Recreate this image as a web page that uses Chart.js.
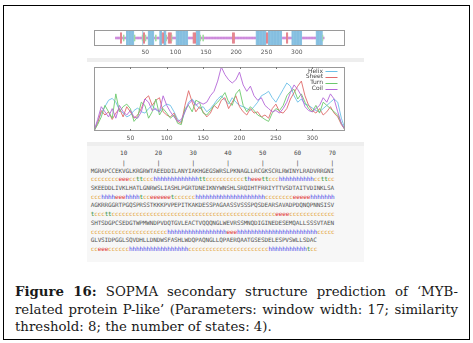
<!DOCTYPE html>
<html>
<head>
<meta charset="utf-8">
<script src="https://cdn.jsdelivr.net/npm/chart.js@4.4.0/dist/chart.umd.min.js"></script>
<style>
body { margin: 0; width: 473px; height: 343px; background: #fff; position: relative; overflow: hidden; }
#frame { position: absolute; left: 3px; top: 5px; width: 467px; height: 335px; border: 1.5px solid #000; box-sizing: border-box; }
.band { position: absolute; left: 87px; width: 277px; background: #eeeeee; }
#panel { position: absolute; left: 87px; top: 143px; width: 277px; height: 119px; background: #f7f7f7; }
#trackWrap { position: absolute; left: 87px; top: 24px; width: 277px; height: 36px; }
#plotWrap { position: absolute; left: 87px; top: 62px; width: 277px; height: 82px; }
.mono { font-family: "DejaVu Sans Mono", monospace; font-size: 6px; letter-spacing: -0.136px; white-space: pre; }
#ruler, #rulerTicks { position: absolute; left: 90.7px; width: 250px; height: 8px; color: #444; }
#ruler span, #rulerTicks span { position: absolute; top: 0; transform: translateX(-50%); letter-spacing: 0; }
#ruler { top: 149px; }
#rulerTicks { top: 158.5px; }
#seq { position: absolute; left: 90.7px; top: 166.6px; line-height: 8.7px; color: #555; }
.c { color: #e3a232; } .h { color: #3b3be6; } .e { color: #df2c2c; } .t { color: #2b8c2b; }
#caption { position: absolute; left: 15px; top: 283px; width: 443px; font-family: "DejaVu Serif", serif; font-size: 13.3px; line-height: 17.5px; color: #1a1a1a; }
.j { text-align: justify; text-align-last: justify; }
</style>
</head>
<body>
<div id="frame"></div>
<div class="band" style="top:58px;height:4px"></div>
<div id="panel"></div>
<div class="band" style="top:142px;height:4px"></div>
<div id="trackWrap"><canvas id="track"></canvas></div>
<div id="plotWrap"><canvas id="plot"></canvas></div>
<div id="ruler" class="mono"></div>
<div id="rulerTicks" class="mono"></div>
<div id="seq" class="mono"></div>
<div id="caption">
  <div class="j"><b>Figure 16:</b> SOPMA secondary structure prediction of ‘MYB-</div>
  <div class="j">related protein P-like’ (Parameters: window width: 17; similarity</div>
  <div>threshold: 8; the number of states: 4).</div>
</div>
<script>
// sequence, 70 residues per line
const seqLines = [
  'MGRAPCCEKVGLKRGRWTAEEDDILANYIAKHGEGSWRSLPKNAGLLRCGKSCRLRWINYLRADVRRGNI',
  'SKEEDDLIVKLHATLGNRWSLIASHLPGRTDNEIKNYWNSHLSRQIHTFRRIYTTVSDTAITVDINKLSA',
  'AGKRRGGRTPGQSPRSSTKKKPVPEPITKAKDESSPAGAASSVSSSPQSDEARSAVADPDQNQPNNSISV',
  'SHTSDGPCSEDGTWPMWNDPVDQTGVLEACTVQQQNGLWEVRSSMNQDIGINEDESEMQALLSSSVTAEN',
  'GLVSIDPGGLSQVDHLLDNDWSFASHLWDQPAQNGLLQPAERQAATGSESDELESPVSWLLSDAC'
];
// predicted states (h helix, e sheet, t turn, c coil), grouped by 10
const ssLines = [
  'ccccccccee eccttccchh hhhhhhhhhh httccccccc cccctheeet tccchhhhhh hhhhccttcc',
  'ccchhhheee hhhhtcceee eeetcccccc hhhhhhhhhh hhhhhhhhhh ccccccccee eeehhhhhhh',
  'tcccttcccc cccccccccc cccccccccc cccccccccc cccccccccc ccceeeeccc cccccccccc',
  'cccccccccc cccccccccc cchhhhhhhh hhhhhhhhhe eehhhhhhhh hhhhhhhhhh hhhhhccccc',
  'cceeeccccc chhhhhhhhh hhhhhhhhcc cccccccccc cccccccccc chhhhhhhhh hhtcc'
].map(s => s.replace(/ /g, ''));
const rulerMarks = [10, 20, 30, 40, 50, 60, 70];
const xTicks = [50, 100, 150, 200, 250, 300];
const xMax = 345;

// score curves, sampled every 5 residues
const residues = [0, 5, 10, 15, 20, 25, 30, 35, 40, 45, 50, 55, 60, 65, 70, 75, 80, 85, 90, 95,
  100, 105, 110, 115, 120, 125, 130, 135, 140, 145, 150, 155, 160, 165, 170, 175, 180, 185, 190, 195,
  200, 205, 210, 215, 220, 225, 230, 235, 240, 245, 250, 255, 260, 265, 270, 275, 280, 285, 290, 295,
  300, 305, 310, 315, 320, 325, 330, 335, 340, 345];
const helix = [0.0, 0.15, 0.28, 0.38, 0.48, 0.51, 0.45, 0.33, 0.28, 0.22, 0.25, 0.32, 0.36, 0.30, 0.28, 0.35, 0.40, 0.33, 0.30, 0.38,
  0.42, 0.40, 0.30, 0.18, 0.14, 0.30, 0.45, 0.50, 0.42, 0.35, 0.38, 0.30, 0.35, 0.42, 0.50, 0.55, 0.48, 0.42, 0.52, 0.45,
  0.40, 0.38, 0.35, 0.32, 0.38, 0.45, 0.55, 0.58, 0.62, 0.52, 0.45, 0.55, 0.65, 0.75, 0.70, 0.55, 0.45, 0.50, 0.42, 0.40,
  0.36, 0.32, 0.30, 0.35, 0.40, 0.45, 0.50, 0.45, 0.20, 0.03];
const sheet = [0.0, 0.12, 0.32, 0.25, 0.30, 0.18, 0.28, 0.35, 0.22, 0.38, 0.30, 0.20, 0.25, 0.35, 0.50, 0.55, 0.40, 0.48, 0.52, 0.30,
  0.25, 0.22, 0.28, 0.15, 0.12, 0.40, 0.63, 0.45, 0.30, 0.38, 0.30, 0.22, 0.28, 0.40, 0.35, 0.48, 0.52, 0.35, 0.45, 0.55,
  0.38, 0.30, 0.25, 0.35, 0.28, 0.30, 0.22, 0.25, 0.20, 0.35, 0.42, 0.30, 0.28, 0.35, 0.50, 0.60, 0.70, 0.78, 0.55, 0.40,
  0.32, 0.28, 0.35, 0.25, 0.30, 0.38, 0.28, 0.22, 0.10, 0.02];
const turn = [0.0, 0.10, 0.22, 0.40, 0.30, 0.20, 0.58, 0.30, 0.38, 0.42, 0.35, 0.15, 0.22, 0.45, 0.40, 0.20, 0.30, 0.50, 0.25, 0.35,
  0.28, 0.20, 0.25, 0.12, 0.10, 0.35, 0.40, 0.30, 0.48, 0.45, 0.28, 0.25, 0.32, 0.40, 0.45, 0.52, 0.60, 0.45, 0.40, 0.58,
  0.65, 0.40, 0.30, 0.38, 0.32, 0.25, 0.22, 0.18, 0.15, 0.28, 0.35, 0.32, 0.40, 0.55, 0.62, 0.65, 0.50, 0.58, 0.45, 0.35,
  0.30, 0.40, 0.28, 0.45, 0.40, 0.35, 0.30, 0.25, 0.12, 0.02];
const coil = [0.0, 0.18, 0.38, 0.30, 0.22, 0.35, 0.20, 0.40, 0.30, 0.25, 0.32, 0.22, 0.20, 0.30, 0.50, 0.45, 0.32, 0.35, 0.30, 0.55,
  0.40, 0.30, 0.22, 0.15, 0.18, 0.30, 0.42, 0.48, 0.40, 0.45, 0.42, 0.45, 0.55, 0.62, 0.78, 1.0, 0.88, 0.80, 0.75, 0.80,
  0.92, 0.72, 0.62, 0.70, 0.55, 0.48, 0.52, 0.40, 0.35, 0.30, 0.32, 0.28, 0.35, 0.45, 0.60, 0.72, 0.65, 0.55, 0.38, 0.32,
  0.30, 0.35, 0.40, 0.52, 0.45, 0.58, 0.50, 0.30, 0.12, 0.02];

const stateColors = { h: '#74b6dc', e: '#e0707a', t: '#8ed68e', c: '#c67ad6' };
const stateHalf = { h: 0.95, e: 0.7, t: 0.4, c: 0.17 };

// sequence block
const ruler = document.getElementById('ruler');
const rulerTicks = document.getElementById('rulerTicks');
const charW = 3.476;
rulerMarks.forEach(n => {
  const a = document.createElement('span');
  a.textContent = n;
  a.style.left = ((n - 0.5) * charW) + 'px';
  ruler.appendChild(a);
  const b = document.createElement('span');
  b.textContent = '|';
  b.style.left = ((n - 0.5) * charW) + 'px';
  rulerTicks.appendChild(b);
});
let html = '';
seqLines.forEach((s, i) => {
  html += s + '\n';
  html += ssLines[i].split('').map(ch => '<span class="' + ch + '">' + ch + '</span>').join('') + '\n';
});
document.getElementById('seq').innerHTML = html;

Chart.defaults.font.family = 'DejaVu Sans';
Chart.defaults.font.size = 6;
Chart.defaults.color = '#555';

const boxPlugin = {
  id: 'box',
  afterDraw(chart, args, opts) {
    const { ctx, chartArea: a } = chart;
    ctx.save();
    ctx.strokeStyle = '#9a9a9a';
    ctx.lineWidth = 1;
    ctx.strokeRect(Math.round(a.left) + 0.5, Math.round(a.top) + 0.5, Math.round(a.width) - 1, Math.round(a.height) - 1);
    if (opts.innerTicks) {
      ctx.strokeStyle = '#777';
      xTicks.forEach(v => {
        const x = Math.round(chart.scales.x.getPixelForValue(v)) + 0.5;
        ctx.beginPath();
        ctx.moveTo(x, a.top); ctx.lineTo(x, a.top + 2);
        ctx.moveTo(x, a.bottom); ctx.lineTo(x, a.bottom - 2);
        ctx.stroke();
      });
    }
    ctx.restore();
  }
};

function xAxis(pad, h) {
  return {
    type: 'linear', min: 0, max: xMax,
    grid: { display: false, drawTicks: false },
    border: { display: false },
    ticks: { padding: pad, color: '#555', font: { size: 6 } },
    afterBuildTicks: s => { s.ticks = xTicks.map(v => ({ value: v })); },
    afterFit: s => { s.height = h; }
  };
}

// track of predicted states
const ssAll = ssLines.join('');
const trackSets = ['t', 'e', 'h', 'c'].map(k => {
  const pts = [];
  for (let i = 0; i < ssAll.length; i++) {
    if (ssAll[i] === k) pts.push({ x: i + 1, y: [-stateHalf[k], stateHalf[k]] });
  }
  return {
    data: pts, backgroundColor: stateColors[k], borderWidth: 0,
    grouped: false, barPercentage: 1.25, categoryPercentage: 1
  };
});

new Chart(document.getElementById('track'), {
  type: 'bar',
  data: { datasets: trackSets },
  options: {
    responsive: true, maintainAspectRatio: false, animation: false, events: [],
    layout: { padding: { left: 7, right: 19, top: 6, bottom: 2 } },
    scales: {
      x: xAxis(3, 12),
      y: { display: false, min: -1, max: 1 }
    },
    plugins: { legend: { display: false }, tooltip: { enabled: false }, box: { innerTicks: false } }
  },
  plugins: [boxPlugin]
});

// score plot
const seriesNames = ['Helix', 'Sheet', 'Turn', 'Coil'];
const seriesValues = [helix, sheet, turn, coil];
const seriesColors = ['#6cc0e8', '#e06a6a', '#6cc86c', '#b466d8'];

const legendPlugin = {
  id: 'sLegend',
  afterDraw(chart) {
    const { ctx, chartArea: a } = chart;
    const rows = [4, 9.5, 15.5, 21.7];
    ctx.save();
    ctx.font = '6px "DejaVu Sans"';
    ctx.textAlign = 'right';
    ctx.textBaseline = 'middle';
    seriesNames.forEach((n, i) => {
      const y = a.top + rows[i];
      ctx.fillStyle = '#444';
      ctx.fillText(n, a.right - 22, y);
      ctx.strokeStyle = seriesColors[i];
      ctx.lineWidth = 1;
      ctx.beginPath();
      ctx.moveTo(a.right - 19.5, Math.round(y) + 0.5);
      ctx.lineTo(a.right - 7.5, Math.round(y) + 0.5);
      ctx.stroke();
    });
    ctx.restore();
  }
};

new Chart(document.getElementById('plot'), {
  type: 'line',
  data: {
    datasets: seriesNames.map((n, i) => ({
      label: n,
      data: residues.map((r, j) => ({ x: r, y: seriesValues[i][j] })),
      borderColor: seriesColors[i],
      borderWidth: 0.9,
      pointRadius: 0,
      tension: 0,
      order: 4 - i
    }))
  },
  options: {
    responsive: true, maintainAspectRatio: false, animation: false, events: [],
    layout: { padding: { left: 7, right: 19, top: 5, bottom: 2 } },
    scales: {
      x: xAxis(4, 11),
      y: { display: false, min: 0, max: 1 }
    },
    plugins: { legend: { display: false }, tooltip: { enabled: false }, box: { innerTicks: true } }
  },
  plugins: [boxPlugin, legendPlugin]
});
</script>
</body>
</html>
